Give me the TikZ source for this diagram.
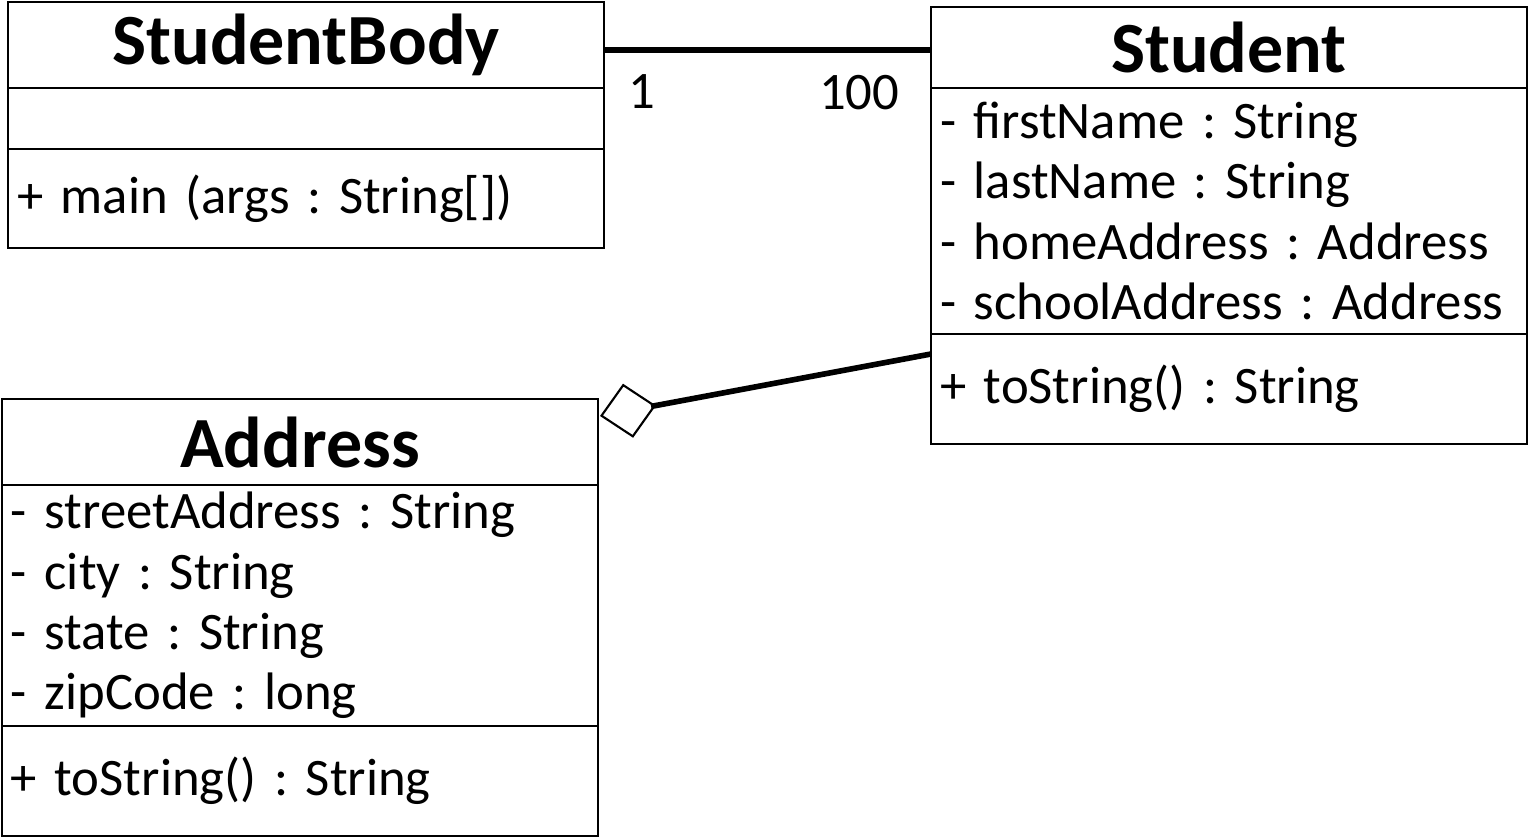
\documentclass[tikz,border=0pt]{standalone}
\usepackage{fontspec}
\setmainfont{Carlito}
\usetikzlibrary{positioning, arrows.meta}
\newcommand\umltitle{\fontsize{20.5}{22}\selectfont\bfseries}
\newcommand\umlbody{\fontsize{15}{17.2}\selectfont}
\frenchspacing

\begin{document}
\begin{tikzpicture}[
  hdr/.style={draw, line width=0.6pt, outer sep=0pt, inner sep=0pt,
              minimum width=5.96cm, minimum height=#1, font=\umltitle},
  part/.style={draw, line width=0.6pt, outer sep=0pt, inner xsep=0.09cm, inner ysep=0pt,
               text width=5.78cm, minimum height=#1, align=left, font=\umlbody},
  assoc/.style={line width=1.6pt},
  aggr/.style={line width=1.6pt, -{Diamond[open, length=0.57cm, width=0.55cm, line width=0.6pt]}},
  mult/.style={font=\umlbody, inner sep=0pt}
]
  \useasboundingbox (0,0) rectangle (15.31,8.38);

  %% StudentBody
  \node[hdr=0.86cm, anchor=north west] (sbhead) at (0.08,8.36) {StudentBody};
  \node[part=0.61cm, below=0pt of sbhead] (sbattr) {};
  \node[part=0.99cm, below=0pt of sbattr] (sbmeth) {+ main (args : String[])};

  %% Student
  \node[hdr=0.81cm, anchor=north west] (sthead) at (9.31,8.31) {Student};
  \node[part=2.46cm, below=0pt of sthead] (stattr) {- firstName : String\\- lastName : String\\- homeAddress : Address\\- schoolAddress : Address};
  \node[part=1.10cm, below=0pt of stattr] (stmeth) {+ toString() : String};

  %% Address
  \node[hdr=0.86cm, anchor=north west] (adhead) at (0.02,4.39) {Address};
  \node[part=2.41cm, below=0pt of adhead] (adattr) {- streetAddress : String\\- city : String\\- state : String\\- zipCode : long};
  \node[part=1.10cm, below=0pt of adattr] (admeth) {+ toString() : String};

  %% Association with multiplicities
  \coordinate (assocstart) at ([yshift=-0.05cm]sbhead.east);
  \draw[assoc] (assocstart) -- (assocstart -| sthead.west)
    node[mult, pos=0, below right=0.22cm and 0.22cm] (m1) {1}
    node[mult, pos=1, below left=0.22cm and 0.29cm] (m100) {100};

  %% Aggregation
  \coordinate (aggrend) at ([yshift=-0.2cm]stmeth.north west);
  \coordinate (aggrtip) at ([xshift=0.02cm, yshift=-0.17cm]adhead.north east);
  \draw[aggr] (aggrend) -- (aggrtip);
\end{tikzpicture}
\end{document}
